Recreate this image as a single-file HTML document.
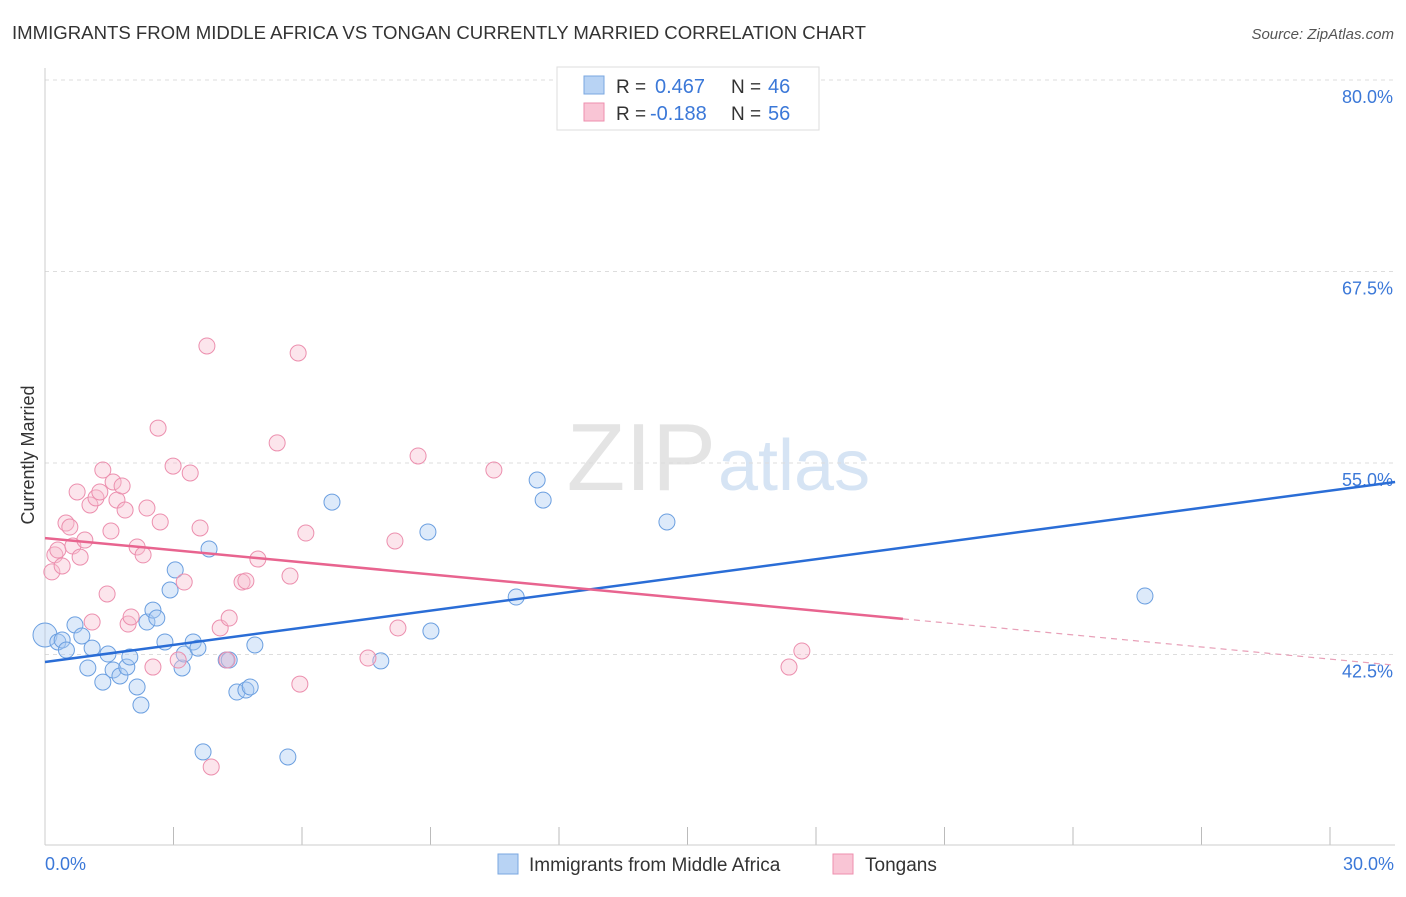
<!DOCTYPE html>
<html><head><meta charset="utf-8"><style>
body{margin:0;background:#fff;font-family:"Liberation Sans",sans-serif;}
svg text{font-family:"Liberation Sans",sans-serif;}
</style></head><body>
<svg id="chart" width="1406" height="892">
<text x="12" y="39" font-size="18" fill="#333" textLength="854" lengthAdjust="spacingAndGlyphs">IMMIGRANTS FROM MIDDLE AFRICA VS TONGAN CURRENTLY MARRIED CORRELATION CHART</text>
<text x="1394" y="39" font-size="15" fill="#555" font-style="italic" text-anchor="end">Source: ZipAtlas.com</text>
<text x="716" y="490" font-size="96" fill="#e4e4e4" text-anchor="end" font-family="Liberation Serif">ZIP</text>
<text x="718" y="490" font-size="72" fill="#d6e4f4">atlas</text>
<g id="grid"></g>
<line x1="45" y1="68" x2="45" y2="845" stroke="#ccc"/>
<line x1="45" y1="845" x2="1395" y2="845" stroke="#ccc"/>
<text x="34" y="455" font-size="18" fill="#333" text-anchor="middle" transform="rotate(-90 34 455)">Currently Married</text>
<text x="45" y="870" font-size="18" fill="#3b78d8">0.0%</text>
<text x="1394" y="870" font-size="18" fill="#3b78d8" text-anchor="end">30.0%</text>
<g id="marks"></g>
<g>
<rect x="557" y="67" width="262" height="63" fill="#fff" stroke="#ddd"/>
<rect x="584" y="76" width="20" height="18" fill="#b8d3f4" stroke="#7aa7e0"/>
<rect x="584" y="103" width="20" height="18" fill="#f9c5d5" stroke="#ee8fae"/>
<text x="616" y="93" font-size="19" fill="#333">R =</text>
<text x="655" y="93" font-size="20" fill="#3b78d8">0.467</text>
<text x="731" y="93" font-size="19" fill="#333">N =</text>
<text x="768" y="93" font-size="20" fill="#3b78d8">46</text>
<text x="616" y="120" font-size="19" fill="#333">R =</text>
<text x="650" y="120" font-size="20" fill="#3b78d8">-0.188</text>
<text x="731" y="120" font-size="19" fill="#333">N =</text>
<text x="768" y="120" font-size="20" fill="#3b78d8">56</text>
</g>
<g>
<rect x="498" y="854" width="20" height="20" fill="#b8d3f4" stroke="#7aa7e0"/>
<text x="529" y="871" font-size="19" fill="#333">Immigrants from Middle Africa</text>
<rect x="833" y="854" width="20" height="20" fill="#f9c5d5" stroke="#ee8fae"/>
<text x="865" y="871" font-size="19" fill="#333">Tongans</text>
</g>
</svg>
<script>
const yTicks=[80,67.5,55,42.5];
const yTickLabels=["80.0%","67.5%","55.0%","42.5%"];
const xTicks=[0,3,6,9,12,15,18,21,24,27,30];
const blueX=[0.0,0.3,0.4,0.5,0.7,0.86,1.0,1.1,1.35,1.47,1.59,1.75,1.91,1.98,2.15,2.24,2.38,2.52,2.61,2.8,2.92,3.04,3.2,3.25,3.46,3.57,3.69,3.83,4.23,4.3,4.48,4.69,4.79,4.9,5.67,6.7,7.84,8.94,9.01,11.0,11.49,11.63,14.52,25.68];
const blueY=[43.77,43.32,43.45,42.79,44.43,43.71,41.62,42.92,40.7,42.53,41.49,41.1,41.68,42.34,40.38,39.2,44.62,45.4,44.88,43.32,46.71,48.02,41.62,42.53,43.32,42.92,36.14,49.39,42.14,42.14,40.05,40.18,40.38,43.12,35.81,52.45,42.08,50.5,44.03,46.25,53.89,52.58,51.15,46.32];
const pinkX=[0.16,0.23,0.3,0.4,0.49,0.58,0.65,0.75,0.82,0.93,1.05,1.1,1.19,1.28,1.35,1.45,1.54,1.59,1.68,1.8,1.87,1.94,2.01,2.15,2.29,2.38,2.52,2.64,2.69,2.99,3.11,3.25,3.39,3.62,3.78,3.88,4.09,4.25,4.3,4.6,4.69,4.97,5.42,5.72,5.91,5.95,6.09,7.54,8.17,8.24,8.71,10.48,17.37,17.67];
const pinkY=[47.89,49.0,49.32,48.28,51.08,50.82,49.58,53.11,48.86,49.97,52.26,44.62,52.72,53.11,54.54,46.45,50.56,53.76,52.58,53.5,51.93,44.49,44.95,49.52,49.0,52.06,41.68,57.28,51.15,54.8,42.14,47.23,54.35,50.76,62.64,35.16,44.23,42.14,44.88,47.23,47.3,48.73,56.31,47.62,62.18,40.57,50.43,42.27,49.91,44.23,55.46,54.54,41.68,42.73];
const blueTrend=[42.01,53.76];
const pinkTrend=[50.1,41.8];
const pinkSolidEnd=20.03;
const xMaxTrend=31.52;
const X=v=>45+v*42.833, Y=v=>80+(80-v)*15.32;
const NS="http://www.w3.org/2000/svg";
const grid=document.getElementById('grid'), marks=document.getElementById('marks');
function mk(tag,attrs,parent){const e=document.createElementNS(NS,tag);for(const k in attrs)e.setAttribute(k,attrs[k]);parent.appendChild(e);return e;}
yTicks.forEach((t,i)=>{
 const l=mk('line',{x1:45,x2:1395,y1:Y(t),y2:Y(t),stroke:'#ddd','stroke-dasharray':'4,4'},grid);
 
 
 const tx=mk('text',{x:1393,y:Y(t)+23,'font-size':18,fill:'#3b78d8','text-anchor':'end'},grid);
 tx.textContent=yTickLabels[i];
 
 
});
xTicks.forEach(t=>{
 const l=mk('line',{x1:X(t),x2:X(t),y1:827,y2:845,stroke:'#bbb'},grid);
 
 
});
blueX.forEach((x,i)=>{
 const c=mk('circle',{cx:X(x),cy:Y(blueY[i]),r:i==0?12:8,fill:'rgba(170,202,242,0.4)',stroke:'#6b9fe0','stroke-width':1},marks);
 
 
});
pinkX.forEach((x,i)=>{
 const c=mk('circle',{cx:X(x),cy:Y(pinkY[i]),r:8,fill:'rgba(248,190,208,0.4)',stroke:'#ec8fae','stroke-width':1},marks);
 
 
});
const bl=mk('line',{x1:X(0),y1:Y(blueTrend[0]),x2:X(xMaxTrend),y2:Y(blueTrend[1]),stroke:'#2a6dd6','stroke-width':2.5},marks);


const pAt=x=>pinkTrend[0]+(pinkTrend[1]-pinkTrend[0])*x/xMaxTrend;
const pl=mk('line',{x1:X(0),y1:Y(pinkTrend[0]),x2:X(pinkSolidEnd),y2:Y(pAt(pinkSolidEnd)),stroke:'#e8648f','stroke-width':2.5},marks);


const pd=mk('line',{x1:X(pinkSolidEnd),y1:Y(pAt(pinkSolidEnd)),x2:X(xMaxTrend),y2:Y(pinkTrend[1]),stroke:'#e8a0b8','stroke-width':1.2,'stroke-dasharray':'6,5'},marks);


</script>
</body></html>
